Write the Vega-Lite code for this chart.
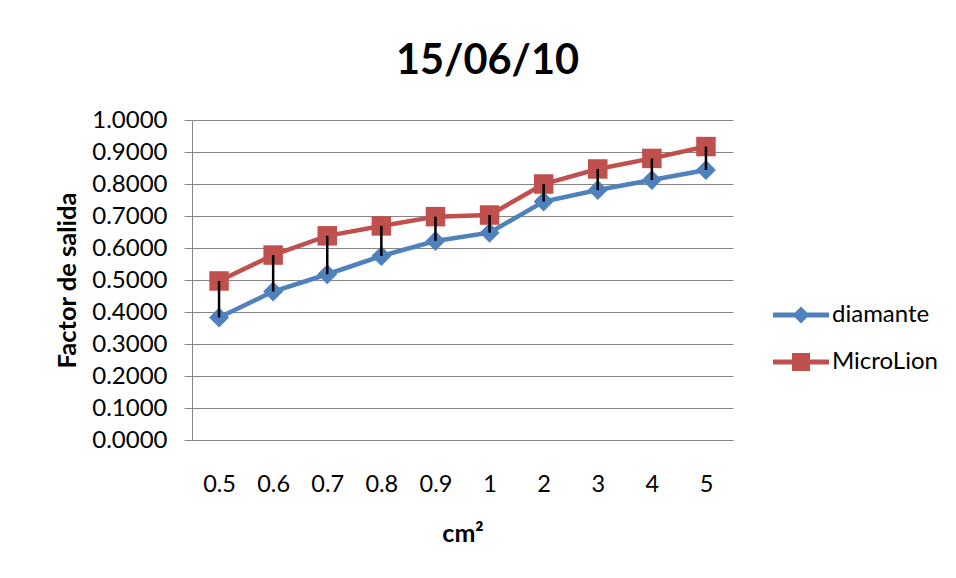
{
  "$schema": "https://vega.github.io/schema/vega-lite/v6.json",
  "width": 541,
  "height": 320,
  "autosize": {"type": "none"},
  "padding": {"left": 192, "top": 120, "right": 223, "bottom": 138},
  "background": "white",
  "config": {
    "view": {"stroke": null},
    "font": "Lato",
    "axisY": {
      "labelOverlap": false,
      "titleFont": "Lato",
      "titleFontSize": 25.5,
      "titleFontWeight": "bold",
      "titleColor": "black",
      "titlePadding": 11,
      "labelFont": "Lato",
      "labelFontSize": 24,
      "labelColor": "black",
      "labelPadding": 17,
      "tickSize": 8,
      "tickColor": "#868686",
      "domainColor": "#868686",
      "gridColor": "#868686",
      "gridWidth": 1
    },
    "legend": {
      "orient": "none",
      "legendX": 594,
      "legendY": 180,
      "labelFont": "Lato",
      "labelFontSize": 24,
      "labelColor": "black",
      "symbolSize": 900,
      "symbolOpacity": 1,
      "symbolStrokeWidth": 0,
      "rowPadding": 20,
      "labelOffset": 16,
      "padding": 0
    }
  },
  "title": {
    "text": "15/06/10",
    "font": "Lato",
    "fontSize": 41.5,
    "fontWeight": "bold",
    "color": "black",
    "anchor": "middle",
    "frame": "group",
    "dx": 25,
    "offset": -7,
    "baseline": "alphabetic"
  },
  "data": {
    "values": [
      {"x": "0.5", "diamante": 0.383, "MicroLion": 0.497},
      {"x": "0.6", "diamante": 0.464, "MicroLion": 0.578},
      {"x": "0.7", "diamante": 0.518, "MicroLion": 0.638},
      {"x": "0.8", "diamante": 0.575, "MicroLion": 0.669},
      {"x": "0.9", "diamante": 0.622, "MicroLion": 0.698},
      {"x": "1", "diamante": 0.648, "MicroLion": 0.703},
      {"x": "2", "diamante": 0.745, "MicroLion": 0.800},
      {"x": "3", "diamante": 0.781, "MicroLion": 0.847},
      {"x": "4", "diamante": 0.8125, "MicroLion": 0.880},
      {"x": "5", "diamante": 0.844, "MicroLion": 0.917}
    ]
  },
  "encoding": {
    "x": {
      "field": "x",
      "type": "ordinal",
      "sort": null,
      "scale": {"type": "point", "padding": 0.5},
      "axis": {
        "title": "cm²",
        "titleFont": "Lato",
        "titleFontSize": 25,
        "titleFontWeight": "bold",
        "titleColor": "black",
        "titlePadding": 26,
        "labelFont": "Lato",
        "labelFontSize": 23.5,
        "labelColor": "black",
        "labelAngle": 0,
        "labelPadding": 32,
        "ticks": false,
        "grid": false,
        "domainColor": "#868686",
        "domainWidth": 1
      }
    }
  },
  "layer": [
    {
      "mark": {"type": "line", "strokeWidth": 4.5, "color": "#4F81BD"},
      "encoding": {
        "y": {
          "field": "diamante",
          "type": "quantitative",
          "scale": {"domain": [0, 1]},
          "axis": {"values": [0, 0.1, 0.2, 0.3, 0.4, 0.5, 0.6, 0.7, 0.8, 0.9, 1], "format": ".4f", "title": "Factor de salida"}
        }
      }
    },
    {
      "mark": {"type": "line", "strokeWidth": 4.5, "color": "#C0504D"},
      "encoding": {
        "y": {
          "field": "MicroLion",
          "type": "quantitative",
          "axis": {"values": [0, 0.1, 0.2, 0.3, 0.4, 0.5, 0.6, 0.7, 0.8, 0.9, 1], "format": ".4f", "title": "Factor de salida"}
        }
      }
    },
    {
      "mark": {"type": "point", "shape": "diamond", "filled": true, "size": 400, "color": "#4F81BD", "opacity": 1},
      "encoding": {
        "y": {
          "field": "diamante",
          "type": "quantitative",
          "axis": {"values": [0, 0.1, 0.2, 0.3, 0.4, 0.5, 0.6, 0.7, 0.8, 0.9, 1], "format": ".4f", "title": "Factor de salida"}
        }
      }
    },
    {
      "mark": {"type": "point", "shape": "square", "filled": true, "size": 380, "color": "#C0504D", "opacity": 1},
      "encoding": {
        "y": {
          "field": "MicroLion",
          "type": "quantitative",
          "axis": {"values": [0, 0.1, 0.2, 0.3, 0.4, 0.5, 0.6, 0.7, 0.8, 0.9, 1], "format": ".4f", "title": "Factor de salida"}
        }
      }
    },
    {
      "mark": {"type": "rule", "color": "black", "strokeWidth": 2.5},
      "encoding": {
        "y": {
          "field": "MicroLion",
          "type": "quantitative",
          "axis": {"values": [0, 0.1, 0.2, 0.3, 0.4, 0.5, 0.6, 0.7, 0.8, 0.9, 1], "format": ".4f", "title": "Factor de salida"}
        },
        "y2": {"field": "diamante"}
      }
    },
    {
      "transform": [{"fold": ["diamante", "MicroLion"], "as": ["serie", "valor"]}],
      "mark": {"type": "point", "filled": true, "size": 0, "strokeWidth": 0},
      "encoding": {
        "y": {
          "field": "valor",
          "type": "quantitative",
          "axis": {"values": [0, 0.1, 0.2, 0.3, 0.4, 0.5, 0.6, 0.7, 0.8, 0.9, 1], "format": ".4f", "title": "Factor de salida"}
        },
        "color": {
          "field": "serie",
          "type": "nominal",
          "scale": {"domain": ["diamante", "MicroLion"], "range": ["#4F81BD", "#C0504D"]},
          "legend": {"title": null}
        },
        "shape": {
          "field": "serie",
          "type": "nominal",
          "scale": {
            "domain": ["diamante", "MicroLion"],
            "range": [
              "M-1.867,-0.167 L-0.4,-0.167 L0,-0.567 L0.4,-0.167 L1.867,-0.167 L1.867,0.167 L0.4,0.167 L0,0.567 L-0.4,0.167 L-1.867,0.167 Z",
              "M-1.867,-0.167 L-0.6,-0.167 L-0.6,-0.6 L0.6,-0.6 L0.6,-0.167 L1.867,-0.167 L1.867,0.167 L0.6,0.167 L0.6,0.6 L-0.6,0.6 L-0.6,0.167 L-1.867,0.167 Z"
            ]
          },
          "legend": {"title": null}
        }
      }
    }
  ]
}
